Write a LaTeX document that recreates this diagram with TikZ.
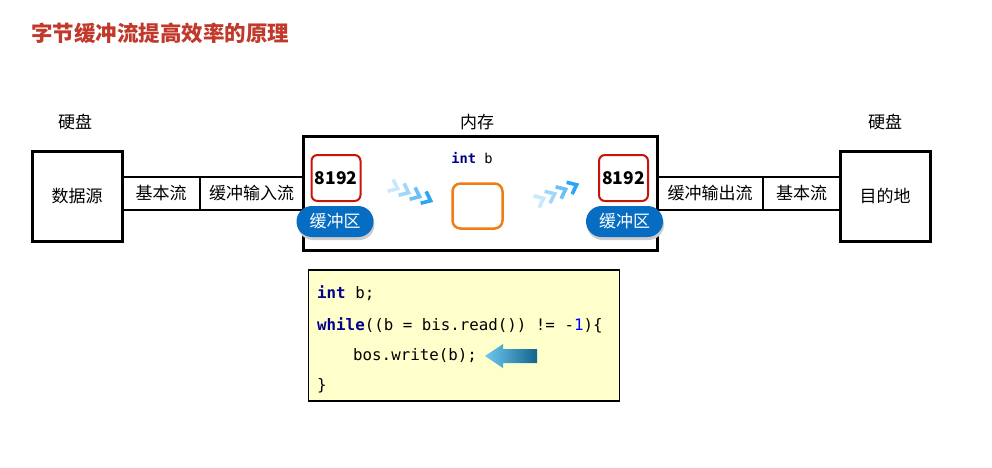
\documentclass[tikz,border=0pt]{standalone}
\usepackage{fontspec}
\setmainfont{Noto Sans CJK SC}
\setmonofont{DejaVu Sans Mono}
\definecolor{titlered}{RGB}{192,57,43}
\definecolor{bufblue}{RGB}{7,109,195}
\definecolor{codeyellow}{RGB}{255,255,204}
\definecolor{kwnavy}{RGB}{0,0,140}
\definecolor{numblue}{RGB}{0,0,255}
\definecolor{varorange}{RGB}{240,125,20}
\definecolor{bufred}{RGB}{200,20,10}
\definecolor{arrowlight}{RGB}{110,200,240}
\definecolor{arrowdark}{RGB}{20,100,140}
\definecolor{chevblue}{RGB}{45,165,245}
\begin{document}
\begin{tikzpicture}[x=1pt,y=-1pt,
  lbl/.style={font=\fontsize{17}{19}\selectfont, inner sep=0},
  bigbox/.style={draw, line width=3pt, inner sep=0, font=\fontsize{17}{19}\selectfont},
  streambox/.style={draw, line width=2pt, inner sep=0, minimum height=33pt, font=\fontsize{17}{19}\selectfont},
  sizebox/.style={draw=bufred, line width=2pt, rounded corners=6pt, minimum width=49pt, minimum height=46pt, inner sep=0, font=\fontsize{17.5}{19}\selectfont\bfseries},
  bufpill/.style={fill=bufblue, rounded corners=15.5pt, minimum width=77pt, minimum height=31pt, inner sep=0, text=white, font=\fontsize{17}{19}\selectfont},
  codeline/.style={anchor=base west, inner sep=0, font=\fontsize{15.8}{18}\selectfont\ttfamily},
  chev/.style={line width=3.6pt, line join=miter}
]
\useasboundingbox (0,0) rectangle (992,467);

% title
\node[anchor=west, inner sep=0, text=titlered, font=\fontsize{21.5}{24}\selectfont\bfseries] (title) at (31,33) {字节缓冲流提高效率的原理};

% labels
\node[lbl] (hd1) at (75,122) {硬盘};
\node[lbl] (mem) at (477,122) {内存};
\node[lbl] (hd2) at (885,122) {硬盘};

% chain of boxes
\node[bigbox, minimum width=90pt, minimum height=90pt] (src) at (77,196) {数据源};
\node[streambox, minimum width=78pt] (basicL) at (161,193.5) {基本流};
\node[streambox, minimum width=103pt] (bufin) at (251.5,193.5) {缓冲输入流};
\node[streambox, minimum width=106pt] (bufout) at (710,193.5) {缓冲输出流};
\node[streambox, minimum width=77pt] (basicR) at (801.5,193.5) {基本流};
\node[bigbox, minimum width=90pt, minimum height=90pt] (dst) at (885,196) {目的地};
\node[draw, line width=3pt, fill=white, minimum width=354pt, minimum height=114pt, inner sep=0] (memory) at (480,193) {};

% buffers
\node[sizebox] (sizeL) at (336,178) {8192};
\node[sizebox] (sizeR) at (623.5,178) {8192};
\fill[black!20, rounded corners=15.5pt] (297.5,209) rectangle (374.5,240);
\fill[black!20, rounded corners=15.5pt] (587,209) rectangle (664,240);
\node[bufpill] (bufL) at (335,221.5) {缓冲区};
\node[bufpill] (bufR) at (624.5,221.5) {缓冲区};

% variable b
\node[inner sep=0, font=\fontsize{13.7}{16}\selectfont\ttfamily] (intb) at (472,158) {\textcolor{kwnavy}{\bfseries int} b};
\node[draw=varorange, line width=2.5pt, rounded corners=8pt, minimum width=50pt, minimum height=45pt, inner sep=0] (varb) at (477.5,206) {};

% chevrons left (pointing down-right)
\foreach \i/\c in {0/25,1/45,2/70,3/100}{
  \draw[chev, draw=chevblue!\c!white, rotate around={-25:(394+\i*11,187+\i*4)}]
    (394+\i*11-4,187+\i*4-6.5) -- (394+\i*11+4,187+\i*4) -- (394+\i*11-4,187+\i*4+6.5);
}
% chevrons right (pointing up-right)
\foreach \i/\c in {0/25,1/45,2/70,3/100}{
  \draw[chev, draw=chevblue!\c!white, rotate around={25:(540+\i*11,200-\i*4.5)}]
    (540+\i*11-4,200-\i*4.5-6.5) -- (540+\i*11+4,200-\i*4.5) -- (540+\i*11-4,200-\i*4.5+6.5);
}

% code box
\node[draw, line width=1.5pt, fill=codeyellow, minimum width=311pt, minimum height=131pt, inner sep=0] (code) at (464,335.5) {};
\node[codeline] (c1) at (317,298) {\textcolor{kwnavy}{\bfseries int} b;};
\node[codeline] (c2) at (317,330) {\textcolor{kwnavy}{\bfseries while}((b = bis.read()) != -\textcolor{numblue}{1})\{};
\node[codeline] (c3) at (353,360) {bos.write(b);};
\node[codeline] (c4) at (317,390) {\}};

% pointing arrow
\shade[left color=arrowlight, right color=arrowdark]
  (485,356) -- (503,344) -- (503,349) -- (537,349) -- (537,363) -- (503,363) -- (503,368) -- cycle;
\end{tikzpicture}
\end{document}
